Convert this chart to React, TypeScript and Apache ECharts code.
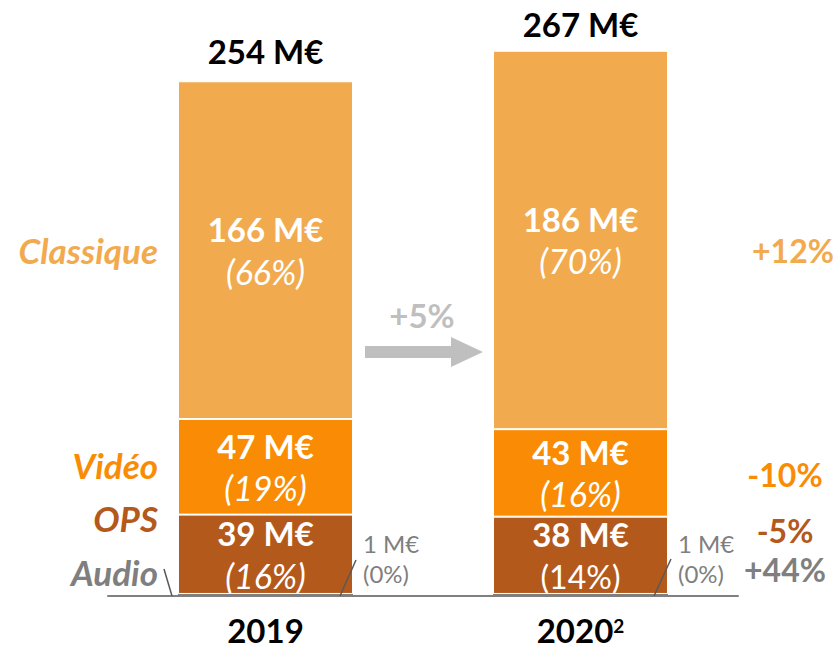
import React, { useEffect, useRef } from 'react';
import * as echarts from 'echarts';

const categories = ['2019', '2020'];
const yearNotes = ['', '2'];
const audio = [1, 1];
const ops = [39, 38];
const video = [47, 43];
const classique = [166, 186];
const totals = [254, 267];
const audioShare = ['0%', '0%'];
const opsShare = ['16%', '14%'];
const opsShareStyle = ['i', 'n'];
const videoShare = ['19%', '16%'];
const classiqueShare = ['66%', '70%'];
const segmentNames = ['Classique', 'Vidéo', 'OPS', 'Audio'];
const growth = ['+12%', '-10%', '-5%', '+44%'];
const totalGrowth = '+5%';

const C_CLASS = '#F2AA4E';
const C_VIDEO = '#FA8C05';
const C_OPS = '#B4591C';
const C_GRAY = '#7F7F7F';
const C_ARROW = '#BFBFBF';
const FONT = 'Lato';

const BAR_W = 175;

const inRich = {
  b: { fontFamily: FONT, fontWeight: 'bold', fontSize: 33, color: '#fff', lineHeight: 42 },
  i: { fontFamily: FONT, fontStyle: 'italic', fontSize: 34, color: '#fff', lineHeight: 42 },
  n: { fontFamily: FONT, fontSize: 32, color: '#fff', lineHeight: 42 },
};

export default function App() {
  const ref = useRef<HTMLDivElement>(null);
  useEffect(() => {
    document.body.style.margin = '0';
    if (!ref.current) return;
    const chart = echarts.init(ref.current, null, { renderer: 'svg' });
    const segLabel = (vals: number[], shares: string[], styles?: string[]) => ({
      show: true,
      position: 'inside',
      formatter: (p: any) =>
        `{b|${vals[p.dataIndex]} M€}\n{${styles ? styles[p.dataIndex] : 'i'}|(${shares[p.dataIndex]})}`,
      rich: inRich,
    });
    const leftText = (text: string, y: number, color: string) => ({
      type: 'text',
      x: 158,
      y,
      style: {
        text,
        textAlign: 'right',
        textVerticalAlign: 'middle',
        font: `italic bold 35px ${FONT}`,
        fill: color,
      },
    });
    const rightText = (text: string, x: number, y: number, color: string) => ({
      type: 'text',
      x,
      y,
      style: {
        text,
        textAlign: 'center',
        textVerticalAlign: 'middle',
        font: `bold 32px ${FONT}`,
        fill: color,
      },
    });
    const leader = (x1: number, y1: number, x2: number, y2: number) => ({
      type: 'line',
      z: 100,
      shape: { x1, y1, x2, y2 },
      style: { stroke: '#595959', lineWidth: 1.5 },
    });
    const option: any = {
      animation: false,
      grid: { left: 108, right: 100, top: 6, bottom: 49, outerBoundsMode: 'none', containLabel: false },
      xAxis: {
        type: 'category',
        data: categories,
        axisTick: { show: false },
        axisLine: { lineStyle: { color: '#808080', width: 2 } },
        axisLabel: {
          margin: 20,
          formatter: (v: string, i: number) => `{y|${v}}${yearNotes[i] ? `{s|${yearNotes[i]}}` : ''}`,
          rich: {
            y: { fontFamily: FONT, fontWeight: 'bold', fontSize: 33, color: '#000', lineHeight: 28 },
            s: { fontFamily: FONT, fontWeight: 'bold', fontSize: 19, color: '#000', verticalAlign: 'top', lineHeight: 16 },
          },
        },
      },
      yAxis: { type: 'value', min: 0, max: 290, show: false, splitLine: { show: false } },
      series: [
        {
          name: 'Audio', type: 'bar', stack: 'a', data: audio, barWidth: BAR_W, z: 3,
          itemStyle: { color: C_GRAY },
          label: {
            show: true, position: 'right', distance: 10, offset: [0, -36],
            formatter: (p: any) => `${audio[p.dataIndex]} M€\n(${audioShare[p.dataIndex]})`,
            fontFamily: FONT, fontSize: 24, lineHeight: 30, color: C_GRAY, align: 'left',
          },
        },
        {
          name: 'OPS', type: 'bar', stack: 'a', data: ops, barWidth: BAR_W, z: 3,
          itemStyle: { color: C_OPS, borderColor: '#fff', borderWidth: 1 },
          label: segLabel(ops, opsShare, opsShareStyle),
        },
        {
          name: 'Vidéo', type: 'bar', stack: 'a', data: video, barWidth: BAR_W, z: 3,
          itemStyle: { color: C_VIDEO, borderColor: '#fff', borderWidth: 1 },
          label: segLabel(video, videoShare),
        },
        {
          name: 'Classique', type: 'bar', stack: 'a', data: classique, barWidth: BAR_W, z: 3,
          itemStyle: { color: C_CLASS, borderColor: '#fff', borderWidth: 1 },
          label: segLabel(classique, classiqueShare),
        },
        {
          name: 'Total', type: 'bar', data: totals, barWidth: BAR_W, barGap: '-100%', z: 1, silent: true,
          itemStyle: { color: 'rgba(0,0,0,0)' },
          label: {
            show: true, position: 'top', distance: 12,
            formatter: (p: any) => `${totals[p.dataIndex]} M€`,
            fontFamily: FONT, fontWeight: 'bold', fontSize: 33, color: '#000',
          },
        },
      ],
      graphic: [
        leftText(segmentNames[0], 250, C_CLASS),
        leftText(segmentNames[1], 465, C_VIDEO),
        leftText(segmentNames[2], 518, C_OPS),
        leftText(segmentNames[3], 572, C_GRAY),
        rightText(growth[0], 793, 250, C_CLASS),
        rightText(growth[1], 785, 474, C_VIDEO),
        rightText(growth[2], 785, 530, C_OPS),
        rightText(growth[3], 785, 569, C_GRAY),
        {
          type: 'text', x: 422, y: 315,
          style: { text: totalGrowth, textAlign: 'center', textVerticalAlign: 'middle', font: `bold 33px ${FONT}`, fill: C_ARROW },
        },
        {
          type: 'polygon',
          shape: { points: [[365, 346], [451, 346], [451, 337], [483, 352], [451, 367], [451, 358], [365, 358]] },
          style: { fill: C_ARROW },
        },
        leader(164, 569, 172, 596),
        leader(340, 596, 356, 560),
        leader(654, 596, 671, 559),
      ],
    };
    chart.setOption(option);
    return () => chart.dispose();
  }, []);
  return <div ref={ref} style={{ width: 838, height: 645 }} />;
}
